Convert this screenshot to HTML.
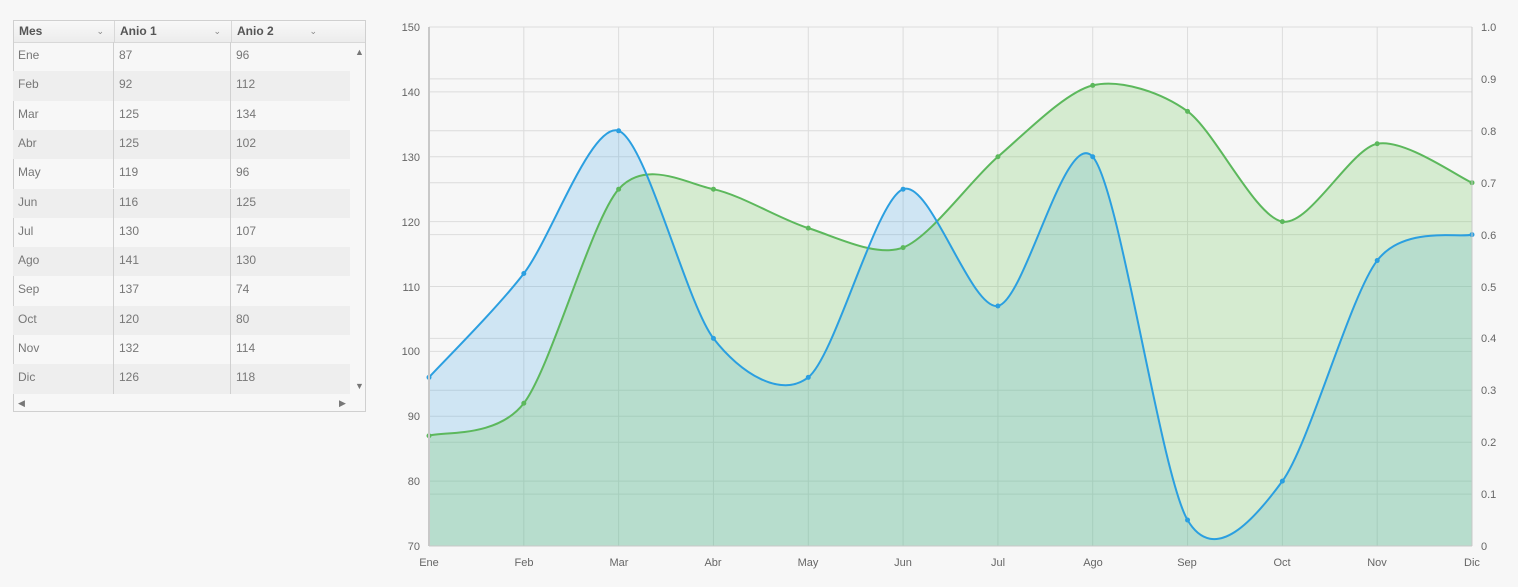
<!DOCTYPE html>
<html><head><meta charset="utf-8"><style>
body{margin:0;background:#f7f7f7;width:1518px;height:587px;overflow:hidden;font-family:"Liberation Sans",sans-serif;position:relative}
.grid{position:absolute;left:13px;top:20px;width:351px;height:390px;border:1px solid #d0d0d0;background:#f7f7f7}
.hdr{position:absolute;left:0;top:0;height:21px;width:351px;border-bottom:1px solid #d8d8d8;background:linear-gradient(#f8f8f8,#ececec)}
.hdr div{position:absolute;top:0;height:21px;line-height:21px;font-size:12px;font-weight:bold;color:#555;padding-left:5px;box-sizing:border-box;border-right:1px solid #d8d8d8}
.hdr span{position:absolute;right:10px;font-weight:normal;font-size:9px;color:#888}
.row{position:absolute;left:0;width:337px;height:29.3px;font-size:12px;color:#777;line-height:26px}
.row.alt{background:#eeeeee}
.row div{position:absolute;top:0;height:100%;padding-left:5px;box-sizing:border-box;border-right:1px solid #d0d0d0}
</style></head><body>
<div class="grid">
<div class="hdr"><div style="left:0;width:101px">Mes<span>⌄</span></div><div style="left:101px;width:117px">Anio 1<span>⌄</span></div><div style="left:218px;width:95px;border-right:none">Anio 2<span>⌄</span></div></div>
<div style="position:absolute;left:341px;top:26px;font-size:9px;color:#777">▲</div>
<div style="position:absolute;left:341px;top:360px;font-size:9px;color:#777">▼</div>
<div style="position:absolute;left:4px;top:377px;font-size:9px;color:#777">◀</div>
<div style="position:absolute;left:325px;top:377px;font-size:9px;color:#777">▶</div>
</div>
<svg width="1518" height="587" style="position:absolute;left:0;top:0" id="svg">
<g id="gr" stroke="#dcdcdc" stroke-width="1"></g>
<path id="ab" fill="rgba(52,160,230,0.2)"/>
<path id="ag" fill="rgba(110,200,90,0.25)"/>
<path id="lg" fill="none" stroke="#5cb85c" stroke-width="2"/>
<path id="lb" fill="none" stroke="#2b9fe0" stroke-width="2"/>
<g id="dots"></g>
<line x1="429" y1="27" x2="429" y2="546" stroke="#c8c8c8" stroke-width="2"/>
<line x1="1472" y1="27" x2="1472" y2="546" stroke="#c8c8c8" stroke-width="1"/>
<line x1="429" y1="546" x2="1472" y2="546" stroke="#c8c8c8" stroke-width="1"/>
<g font-size="11" fill="#666" font-family="Liberation Sans, sans-serif">
<text x="420" y="31" text-anchor="end">150</text><text x="420" y="96" text-anchor="end">140</text><text x="420" y="161" text-anchor="end">130</text><text x="420" y="226" text-anchor="end">120</text><text x="420" y="291" text-anchor="end">110</text><text x="420" y="355" text-anchor="end">100</text><text x="420" y="420" text-anchor="end">90</text><text x="420" y="485" text-anchor="end">80</text><text x="420" y="550" text-anchor="end">70</text>
<text x="1481" y="31">1.0</text><text x="1481" y="83">0.9</text><text x="1481" y="135">0.8</text><text x="1481" y="187">0.7</text><text x="1481" y="239">0.6</text><text x="1481" y="291">0.5</text><text x="1481" y="342">0.4</text><text x="1481" y="394">0.3</text><text x="1481" y="446">0.2</text><text x="1481" y="498">0.1</text><text x="1481" y="550">0</text>
<text x="429" y="566" text-anchor="middle">Ene</text><text x="524" y="566" text-anchor="middle">Feb</text><text x="619" y="566" text-anchor="middle">Mar</text><text x="713" y="566" text-anchor="middle">Abr</text><text x="808" y="566" text-anchor="middle">May</text><text x="903" y="566" text-anchor="middle">Jun</text><text x="998" y="566" text-anchor="middle">Jul</text><text x="1093" y="566" text-anchor="middle">Ago</text><text x="1187" y="566" text-anchor="middle">Sep</text><text x="1282" y="566" text-anchor="middle">Oct</text><text x="1377" y="566" text-anchor="middle">Nov</text><text x="1472" y="566" text-anchor="middle">Dic</text>
</g>
</svg>
<div class="grid" style="background:none;border:none;pointer-events:none">
<div class="row" style="top:22px"><div style="left:0;width:101px">Ene</div><div style="left:101px;width:117px">87</div><div style="left:218px;border:none">96</div></div>
<div class="row alt" style="top:51.3px"><div style="left:0;width:101px">Feb</div><div style="left:101px;width:117px">92</div><div style="left:218px;border:none">112</div></div>
<div class="row" style="top:80.6px"><div style="left:0;width:101px">Mar</div><div style="left:101px;width:117px">125</div><div style="left:218px;border:none">134</div></div>
<div class="row alt" style="top:109.9px"><div style="left:0;width:101px">Abr</div><div style="left:101px;width:117px">125</div><div style="left:218px;border:none">102</div></div>
<div class="row" style="top:139.2px"><div style="left:0;width:101px">May</div><div style="left:101px;width:117px">119</div><div style="left:218px;border:none">96</div></div>
<div class="row alt" style="top:168.5px"><div style="left:0;width:101px">Jun</div><div style="left:101px;width:117px">116</div><div style="left:218px;border:none">125</div></div>
<div class="row" style="top:197.8px"><div style="left:0;width:101px">Jul</div><div style="left:101px;width:117px">130</div><div style="left:218px;border:none">107</div></div>
<div class="row alt" style="top:227.1px"><div style="left:0;width:101px">Ago</div><div style="left:101px;width:117px">141</div><div style="left:218px;border:none">130</div></div>
<div class="row" style="top:256.4px"><div style="left:0;width:101px">Sep</div><div style="left:101px;width:117px">137</div><div style="left:218px;border:none">74</div></div>
<div class="row alt" style="top:285.7px"><div style="left:0;width:101px">Oct</div><div style="left:101px;width:117px">120</div><div style="left:218px;border:none">80</div></div>
<div class="row" style="top:315px"><div style="left:0;width:101px">Nov</div><div style="left:101px;width:117px">132</div><div style="left:218px;border:none">114</div></div>
<div class="row alt" style="top:344.3px"><div style="left:0;width:101px">Dic</div><div style="left:101px;width:117px">126</div><div style="left:218px;border:none">118</div></div>
</div>
<script>
var X0=429,X1=1472,Y0=546,Y1=27;
function y(v){return Y0-(v-70)/80*(Y0-Y1);}
function x(i){return X0+i*(X1-X0)/11;}
var g=[87,92,125,125,119,116,130,141,137,120,132,126],b=[96,112,134,102,96,125,107,130,74,80,114,118];
var gr=document.getElementById('gr'),h='';
for(var i=0;i<12;i++)h+='<line x1="'+x(i)+'" y1="27" x2="'+x(i)+'" y2="546"/>';
for(var v=70;v<=150;v+=10)h+='<line x1="429" y1="'+y(v)+'" x2="1472" y2="'+y(v)+'"/>';
for(var k=0;k<=10;k++){var yy=Y0-k*(Y0-Y1)/10;h+='<line x1="429" y1="'+yy+'" x2="1472" y2="'+yy+'"/>';}
gr.innerHTML=h;
var T=7;
function path(d){var p=d.map(function(v,i){return [x(i),y(v)]});var s='M'+p[0][0]+','+p[0][1];
for(var i=0;i<p.length-1;i++){var p0=p[i-1]||p[i],p1=p[i],p2=p[i+1],p3=p[i+2]||p2;
s+=' C'+(p1[0]+(p2[0]-p0[0])/T)+','+(p1[1]+(p2[1]-p0[1])/T)+' '+(p2[0]-(p3[0]-p1[0])/T)+','+(p2[1]-(p3[1]-p1[1])/T)+' '+p2[0]+','+p2[1];}
return s;}
var pg=path(g),pb=path(b);
document.getElementById('lg').setAttribute('d',pg);document.getElementById('lb').setAttribute('d',pb);
document.getElementById('ag').setAttribute('d',pg+' L1472,546 L429,546Z');document.getElementById('ab').setAttribute('d',pb+' L1472,546 L429,546Z');
var dh='';for(i=0;i<12;i++){dh+='<circle cx="'+x(i)+'" cy="'+y(g[i])+'" r="2.5" fill="#5cb85c"/><circle cx="'+x(i)+'" cy="'+y(b[i])+'" r="2.5" fill="#2b9fe0"/>';}
document.getElementById('dots').innerHTML=dh;
</script>
</body></html>
